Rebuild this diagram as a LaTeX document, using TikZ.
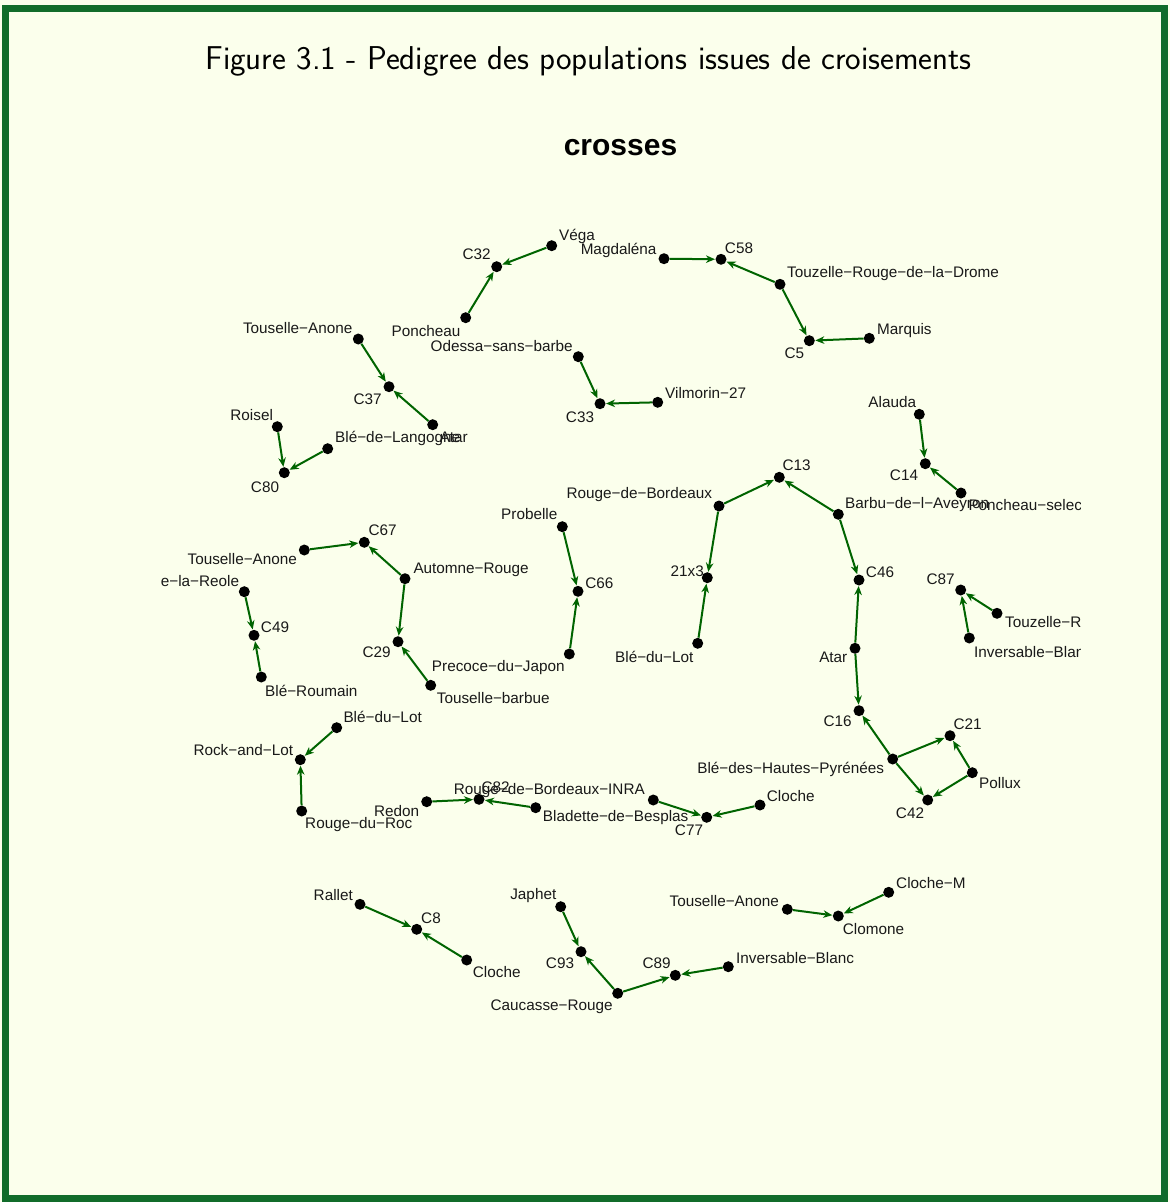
\documentclass[tikz,border=0pt]{standalone}
\usepackage{fontspec}
\newfontfamily\labfont{Liberation Sans}
\usetikzlibrary{arrows.meta}
\definecolor{bgcol}{RGB}{251,255,236}
\definecolor{framecol}{RGB}{17,108,42}
\definecolor{edgecol}{RGB}{0,100,0}
\tikzset{
  dot/.style={circle,fill=black,inner sep=0pt,minimum size=11pt},
  lbl/.style={font=\labfont\fontsize{15.3}{16}\selectfont,inner sep=0pt,text=black!90,yshift=-3.5pt},
  pedge/.style={draw=edgecol,line width=2pt,-{Stealth[length=9pt,width=7.5pt,inset=2.8pt]},shorten >=0.3pt},
}
\newcommand\pnode[5]{\node[dot] (#1) at (#2) {}; \node[lbl,anchor=#3] (#1-l) at (#4) {#5};}
\begin{document}
\begin{tikzpicture}[x=1pt,y=-1pt]
\useasboundingbox (0,0) rectangle (1170,1202);
\fill[bgcol] (0,0) rectangle (1170,1202);
\draw[framecol,line width=7pt] (5,8.5) rectangle (1164.5,1198);
\node[font=\sffamily\fontsize{33}{40}\selectfont,anchor=mid] (title) at (588.5,67) {Figure 3.1 - Pedigree des populations issues de croisements};
\node[font=\labfont\bfseries\fontsize{30}{36}\selectfont,anchor=mid] (main) at (620.5,153) {crosses};
\begin{scope}
\clip (161,100) rectangle (1080,1100);
\pnode{vega}{551.7,245.7}{mid west}{559,235}{Véga}
\pnode{c32}{496.7,266.7}{mid}{476.7,254.3}{C32}
\pnode{magd}{664,258.7}{mid}{618.6,249.3}{Magdaléna}
\pnode{c58}{721,259.3}{mid}{739,248.3}{C58}
\pnode{tzrd}{780,284.3}{mid west}{787,271.7}{Touzelle−Rouge−de−la−Drome}
\pnode{c5}{809.3,340.7}{mid}{794.3,353.3}{C5}
\pnode{marq}{869.3,338.3}{mid west}{877,329}{Marquis}
\pnode{ponch}{465.7,317.7}{mid}{426,331}{Poncheau}
\pnode{odessa}{578.3,356.7}{mid}{501.7,345.7}{Odessa−sans−barbe}
\pnode{tana}{358.3,339}{mid}{297.7,328.3}{Touselle−Anone}
\pnode{c37}{389,386.7}{mid}{367.7,399}{C37}
\pnode{ataa}{432.7,424.7}{mid}{453.8,437}{Atar}
\pnode{vilm}{657.7,402.3}{mid west}{665,393.3}{Vilmorin−27}
\pnode{c33}{600,403.7}{mid}{580,417.3}{C33}
\pnode{roisel}{277.3,426.7}{mid}{251.7,414.7}{Roisel}
\pnode{bdl}{327.7,448.7}{mid west}{335,437}{Blé−de−Langogne}
\pnode{c80}{284.3,472.7}{mid}{265,487}{C80}
\pnode{alauda}{919.3,414.3}{mid}{892.3,402.3}{Alauda}
\pnode{c14}{925.3,463.7}{mid}{904,475}{C14}
\pnode{pselec}{961,493}{mid west}{968.3,505}{Poncheau−selection}
\pnode{barbu}{838.3,514.3}{mid west}{845,503.3}{Barbu−de−l−Aveyron}
\pnode{c13}{779.3,477.3}{mid}{796.7,465}{C13}
\pnode{rdb}{719,506}{mid}{639.3,493.3}{Rouge−de−Bordeaux}
\pnode{xtt}{707.3,577.7}{mid}{687.3,570.7}{21x3}
\pnode{c46}{859,580}{mid}{880,571.7}{C46}
\pnode{bdlota}{697.7,643.3}{mid}{654.3,657.3}{Blé−du−Lot}
\pnode{atab}{855,648.3}{mid}{833.3,657.3}{Atar}
\pnode{c16}{859,710.7}{mid}{837.7,721}{C16}
\pnode{c87}{960.7,590}{mid}{940.7,579}{C87}
\pnode{tzrb}{997,613.3}{mid west}{1005,622.3}{Touzelle−Rouge−de−la−Drome}
\pnode{invba}{969.3,638}{mid west}{974,652.3}{Inversable−Blanc}
\pnode{probelle}{562.3,526.7}{mid}{529.3,514}{Probelle}
\pnode{c66}{578,591.3}{mid}{599.3,583.3}{C66}
\pnode{pdj}{569.3,654}{mid}{498.3,665.7}{Precoce−du−Japon}
\pnode{c67}{364.3,542.3}{mid}{382.7,530}{C67}
\pnode{tanb}{304.3,550}{mid}{242.3,559}{Touselle−Anone}
\pnode{automne}{405,578.7}{mid west}{413.3,568.3}{Automne−Rouge}
\pnode{reole}{244.3,591.7}{mid east}{239.3,580.7}{Rouge−de−la−Reole}
\pnode{c49}{254,635.3}{mid}{275,626.7}{C49}
\pnode{bro}{261.3,677}{mid west}{265,691}{Blé−Roumain}
\pnode{c29}{398,641.7}{mid}{376.7,652.3}{C29}
\pnode{tbarb}{430.7,685.3}{mid west}{436.7,698}{Touselle−barbue}
\pnode{bdlotb}{336.7,727.7}{mid west}{343.3,716.7}{Blé−du−Lot}
\pnode{rockl}{300.3,759.7}{mid}{243.3,750}{Rock−and−Lot}
\pnode{rduroc}{301.7,811}{mid west}{305,823.3}{Rouge−du−Roc}
\pnode{redon}{426.7,801.7}{mid}{396.7,810.7}{Redon}
\pnode{c82}{479,799.3}{mid}{495.7,786.7}{C82}
\pnode{rdbi}{653.3,800}{mid}{549.3,789.3}{Rouge−de−Bordeaux−INRA}
\pnode{blad}{535.7,807.7}{mid west}{542.7,816}{Bladette−de−Besplas}
\pnode{c77}{706.7,817.3}{mid}{689,830}{C77}
\pnode{clochea}{760,805}{mid west}{766.7,796}{Cloche}
\pnode{bhp}{892.7,759}{mid}{790.7,768.3}{Blé−des−Hautes−Pyrénées}
\pnode{c21}{950,735.7}{mid}{967.7,724}{C21}
\pnode{pollux}{972.3,772.7}{mid}{1000,782.7}{Pollux}
\pnode{c42}{927.7,800}{mid}{910,813.3}{C42}
\pnode{rallet}{360,904.3}{mid}{333.3,895}{Rallet}
\pnode{c8}{416.7,929.3}{mid}{431,918.3}{C8}
\pnode{clocheb}{466.7,960}{mid west}{472.7,971.7}{Cloche}
\pnode{japhet}{560.7,906.7}{mid}{533.3,894.3}{Japhet}
\pnode{c93}{581,951.7}{mid}{560,962.7}{C93}
\pnode{caucasse}{617.7,993.3}{mid}{551.7,1005}{Caucasse−Rouge}
\pnode{c89}{675.3,975.3}{mid}{656.7,963.3}{C89}
\pnode{invbb}{728.3,966.7}{mid west}{736,958.3}{Inversable−Blanc}
\pnode{tanc}{787.3,909.3}{mid}{724.3,901}{Touselle−Anone}
\pnode{clomone}{838.3,916}{mid west}{842.7,929}{Clomone}
\pnode{clochem}{888.7,892.3}{mid west}{896,883.3}{Cloche−M}
\end{scope}
\foreach \a/\b in {vega/c32,ponch/c32,magd/c58,tzrd/c58,tzrd/c5,marq/c5,tana/c37,ataa/c37,odessa/c33,vilm/c33,roisel/c80,bdl/c80,alauda/c14,pselec/c14,rdb/c13,barbu/c13,rdb/xtt,bdlota/xtt,barbu/c46,atab/c46,atab/c16,tzrb/c87,invba/c87,probelle/c66,pdj/c66,tanb/c67,automne/c67,automne/c29,tbarb/c29,reole/c49,bro/c49,bdlotb/rockl,rduroc/rockl,redon/c82,blad/c82,rdbi/c77,clochea/c77,bhp/c16,bhp/c21,bhp/c42,pollux/c21,pollux/c42,rallet/c8,clocheb/c8,japhet/c93,caucasse/c93,caucasse/c89,invbb/c89,tanc/clomone,clochem/clomone}
  \draw[pedge] (\a) -- (\b);
\end{tikzpicture}
\end{document}
